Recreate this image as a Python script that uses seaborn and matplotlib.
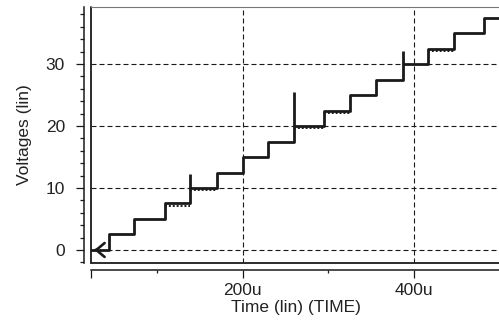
"""
Staircase voltage transient (HSPICE style waveform view)
"""

import numpy as np
import pandas as pd
import matplotlib
matplotlib.use("Agg")
import matplotlib.pyplot as plt
import seaborn as sns

# Data (time in microseconds, voltage in volts)
step_times_us = [44, 73, 109, 139, 170, 200, 230, 260, 295, 325, 356, 387, 417, 447, 482]
step_levels = [0, 2.5, 5, 7.5, 10, 12.5, 15, 17.5, 20, 22.5, 25, 27.5, 30, 32.5, 35, 37.5]
trace_start_us = 0
trace_end_us = 520

# glitches on the rising edges
glitch_times_us = [139, 260, 387]
glitch_bases = [10, 20, 30]
glitch_tops = [12.2, 25.5, 32.1]

# steps where the second (dotted) trace sits just under the main one
dotted_levels = [7.5, 10, 20, 22.5, 32.5]
dotted_starts_us = [109, 139, 260, 295, 417]
dotted_ends_us = [139, 170, 295, 325, 447]

x_min, x_max = 23, 499.5
y_min, y_max = -2.1, 39.2
x_major = [x_min, 200, 400]
x_major_labels = ["", "200u", "400u"]
x_minor = [100, 300]
y_major = [0, 10, 20, 30]
y_minor = [-2, 2, 4, 6, 8, 12, 14, 16, 18, 22, 24, 26, 28, 32, 34, 36, 38]

sns.set_style("white")
plt.rcParams["font.family"] = ["Liberation Sans", "DejaVu Sans"]

df = pd.DataFrame({
    "time": [trace_start_us] + step_times_us,
    "voltage": step_levels,
})
# close the last step at the right edge
df = pd.concat([df, pd.DataFrame({"time": [trace_end_us], "voltage": [step_levels[-1]]})],
               ignore_index=True)

fig = plt.figure(figsize=(4.99, 3.22), dpi=100)
ax = fig.add_axes([91 / 499, 1 - 263 / 322, 1 - 91 / 499, 256 / 322])

ink = "#1a1a1a"
text_col = "#222222"

# grid
for y in y_major:
    ax.axhline(y, color=ink, lw=0.8, ls=(0, (4.5, 2.7)), zorder=1)
for x in [200, 400]:
    ax.axvline(x, color=ink, lw=0.8, ls=(0, (4.5, 2.7)), zorder=1)

# dotted trace under the main one
ax.hlines(np.array(dotted_levels) - 0.35, dotted_starts_us, dotted_ends_us,
          colors=ink, lw=1.4, linestyles=(0, (1, 1)), zorder=2)

sns.lineplot(data=df, x="time", y="voltage", ax=ax, estimator=None, sort=False,
             drawstyle="steps-post", color=ink, lw=2.0, zorder=3)
ax.vlines(glitch_times_us, glitch_bases, glitch_tops, colors=ink, lw=2.0, zorder=3)

# trace marker at the left edge
ax.annotate("", xy=(x_min + 0.5, 0), xytext=(x_min + 10, 0),
            arrowprops=dict(arrowstyle="->,head_length=0.6,head_width=0.5",
                            color=ink, lw=1.9),
            annotation_clip=False, zorder=4)

ax.set_xlim(x_min, x_max)
ax.set_ylim(y_min, y_max)

# axes lines sit outside the plot box
for side in ["top", "right"]:
    ax.spines[side].set_visible(False)
ax.spines["left"].set_position(("outward", 5))
ax.spines["bottom"].set_position(("outward", 4.7))
for side in ["left", "bottom"]:
    ax.spines[side].set_color(ink)
    ax.spines[side].set_linewidth(1.1)

# plot box
ax.plot([0, 0], [0, 1], transform=ax.transAxes, color=ink, lw=1.3, clip_on=False)
ax.plot([0, 1], [0, 0], transform=ax.transAxes, color=ink, lw=1.3, clip_on=False)
ax.plot([0, 1], [1, 1], transform=ax.transAxes, color="#777777", lw=0.8, clip_on=False)

ax.set_xticks(x_major, labels=x_major_labels)
ax.set_xticks(x_minor, minor=True)
ax.set_yticks(y_major, labels=[str(v) for v in y_major])
ax.set_yticks(y_minor, minor=True)
ax.tick_params(axis="both", which="both", direction="out", color=ink, width=0.9,
               labelsize=12.5, labelcolor=text_col)
ax.tick_params(axis="y", which="major", length=5.8, pad=8, left=True)
ax.tick_params(axis="y", which="minor", length=2.9, left=True)
ax.tick_params(axis="x", which="major", length=5.4, pad=4.3, bottom=True)
ax.tick_params(axis="x", which="minor", length=2.5, bottom=True)

ax.set_xlabel("Time (lin) (TIME)", fontsize=12.5, color=text_col)
ax.set_ylabel("Voltages (lin)", fontsize=12.5, color=text_col)
ax.xaxis.set_label_coords((296 - 91) / 408, -(300 - 263) / 256)
ax.yaxis.set_label_coords(-(91 - 32) / 408, 0.5)

fig.savefig("out.png", dpi=100)
